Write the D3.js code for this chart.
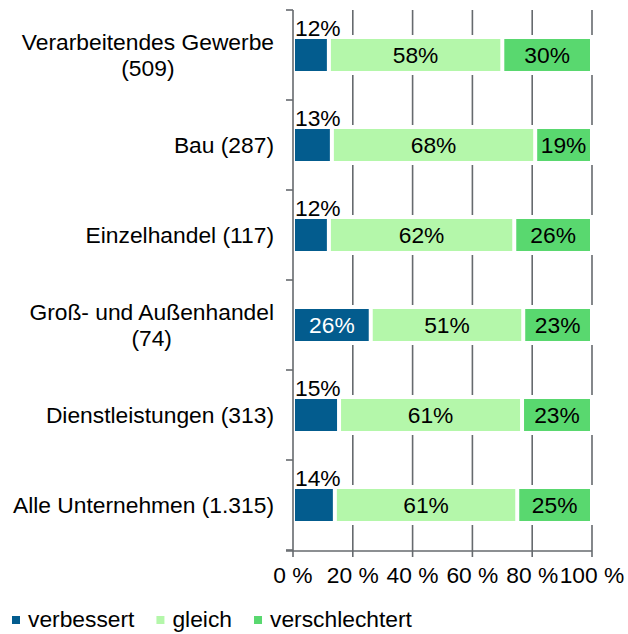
<!DOCTYPE html>
<html>
<head>
<meta charset="utf-8">
<script src="https://cdn.jsdelivr.net/npm/d3@7"></script>
<style>
  body { margin: 0; background: #fff; }
  text { font-family: Arial, "Liberation Sans", sans-serif; }
</style>
</head>
<body>
<div id="chart"></div>
<script>
// Chart data
const categories = [
    "Verarbeitendes Gewerbe\n(509)",
    "Bau (287)",
    "Einzelhandel (117)",
    "Groß- und Außenhandel\n(74)",
    "Dienstleistungen (313)",
    "Alle Unternehmen (1.315)"
];
const seriesNames = ["verbessert", "gleich", "verschlechtert"];
const verbessert = [12, 13, 12, 26, 15.4, 14];
const gleich = [58, 68, 62, 51, 61.2, 61];
const verschlechtert = [30, 19, 26, 23, 23.4, 25];
const xTicks = [0, 20, 40, 60, 80, 100];

const colors = ["#035c8e", "#b4f7aa", "#59d86f"];
const width = 628, height = 634;
const fontSize = 22.8;

const svg = d3.select('#chart').append('svg')
    .attr('width', width)
    .attr('height', height);

const x = d3.scaleLinear().domain([0, 100]).range([293, 592]);
const y = d3.scaleBand().domain(categories).range([10, 550]).padding(0);

// Build stacked rows
const rows = categories.map((c, i) => ({ category: c, values: [verbessert[i], gleich[i], verschlechtert[i]] }));
const stack = d3.stack().keys([0, 1, 2]).value((d, k) => d.values[k]);
const stacked = stack(rows);

// Gridlines
const gridColor = '#666a6e';
svg.append('g')
    .selectAll('line')
    .data(xTicks.slice(1))
    .join('line')
    .attr('x1', d => x(d)).attr('x2', d => x(d))
    .attr('y1', y.range()[0]).attr('y2', y.range()[1] + 1)
    .attr('stroke', gridColor)
    .attr('stroke-width', 1.6);

// White halo behind bars (breaks the gridlines)
const barH = 32;
svg.append('g')
    .selectAll('rect')
    .data(categories)
    .join('rect')
    .attr('x', x(0) + 1)
    .attr('width', x(100) - x(0) + 3)
    .attr('y', d => y(d) + y.bandwidth() / 2 - barH / 2 - 4)
    .attr('height', barH + 8)
    .attr('fill', '#fff');

// Bars
stacked.forEach((layer, k) => {
    const g = svg.append('g');
    g.selectAll('rect')
        .data(layer)
        .join('rect')
        .attr('x', d => x(d[0]) + 2)
        .attr('width', d => x(d[1]) - x(d[0]) - 4)
        .attr('y', d => y(d.data.category) + y.bandwidth() / 2 - barH / 2)
        .attr('height', barH)
        .attr('fill', colors[k]);

    g.selectAll('text')
        .data(layer)
        .join('text')
        .attr('font-size', fontSize)
        .attr('fill', d => (k === 0 ? '#fff' : '#000'))
        .each(function(d) {
            const v = d[1] - d[0];
            const cy = y(d.data.category) + y.bandwidth() / 2;
            const t = d3.select(this).text(Math.round(v) + '%');
            if (k === 0 && v < 20) {
                t.attr('x', x(d[0]) + 2).attr('y', cy - 19)
                    .attr('text-anchor', 'start').attr('fill', '#000');
            } else {
                t.attr('x', (x(d[0]) + x(d[1])) / 2).attr('y', cy + 8)
                    .attr('text-anchor', 'middle');
            }
        });
});

// Y axis
const axisColor = '#666a6e';
svg.append('line')
    .attr('x1', x(0)).attr('x2', x(0))
    .attr('y1', y.range()[0]).attr('y2', y.range()[1] + 1)
    .attr('stroke', axisColor).attr('stroke-width', 1.6);

const bounds = categories.map(c => y(c)).concat([y.range()[1]]);
svg.append('g')
    .selectAll('line')
    .data(bounds)
    .join('line')
    .attr('x1', x(0) - 7).attr('x2', x(0))
    .attr('y1', d => d).attr('y2', d => d)
    .attr('stroke', axisColor).attr('stroke-width', 1.6);

// Category labels (block right-aligned, lines centred within it)
const catLabels = svg.append('g');
catLabels.selectAll('text')
    .data(categories)
    .join('text')
    .attr('font-size', fontSize)
    .attr('fill', '#000')
    .attr('text-anchor', 'middle')
    .each(function(c) {
        const lines = c.split('\n');
        const cy = y(c) + y.bandwidth() / 2;
        const t = d3.select(this);
        const lh = 26;
        const y0 = cy + 8 - (lines.length - 1) * lh / 2;
        lines.forEach((l, i) => {
            t.append('tspan').attr('y', y0 + i * lh).text(l);
        });
        const spans = t.selectAll('tspan');
        let maxW = 0;
        spans.each(function() { maxW = Math.max(maxW, this.getComputedTextLength()); });
        spans.attr('x', 274 - maxW / 2);
    });

// X axis
svg.append('line')
    .attr('x1', x(0) - 7).attr('x2', x(100))
    .attr('y1', y.range()[1] + 1).attr('y2', y.range()[1] + 1)
    .attr('stroke', axisColor).attr('stroke-width', 1.6);

svg.append('g')
    .selectAll('line')
    .data(xTicks)
    .join('line')
    .attr('x1', d => x(d)).attr('x2', d => x(d))
    .attr('y1', y.range()[1] + 1).attr('y2', y.range()[1] + 7)
    .attr('stroke', axisColor).attr('stroke-width', 1.6);

svg.append('g')
    .selectAll('text')
    .data(xTicks)
    .join('text')
    .attr('x', d => x(d))
    .attr('y', 583)
    .attr('text-anchor', 'middle')
    .attr('font-size', fontSize)
    .attr('fill', '#000')
    .text(d => d + ' %');

// Legend
const legend = svg.append('g');
let lx = 12;
seriesNames.forEach((name, k) => {
    legend.append('rect')
        .attr('x', lx).attr('y', 616)
        .attr('width', 8).attr('height', 8)
        .attr('fill', colors[k]);
    const t = legend.append('text')
        .attr('x', lx + 16).attr('y', 627)
        .attr('font-size', fontSize)
        .attr('fill', '#000')
        .text(name);
    lx += 16 + t.node().getComputedTextLength() + 22;
});
</script>
</body>
</html>
